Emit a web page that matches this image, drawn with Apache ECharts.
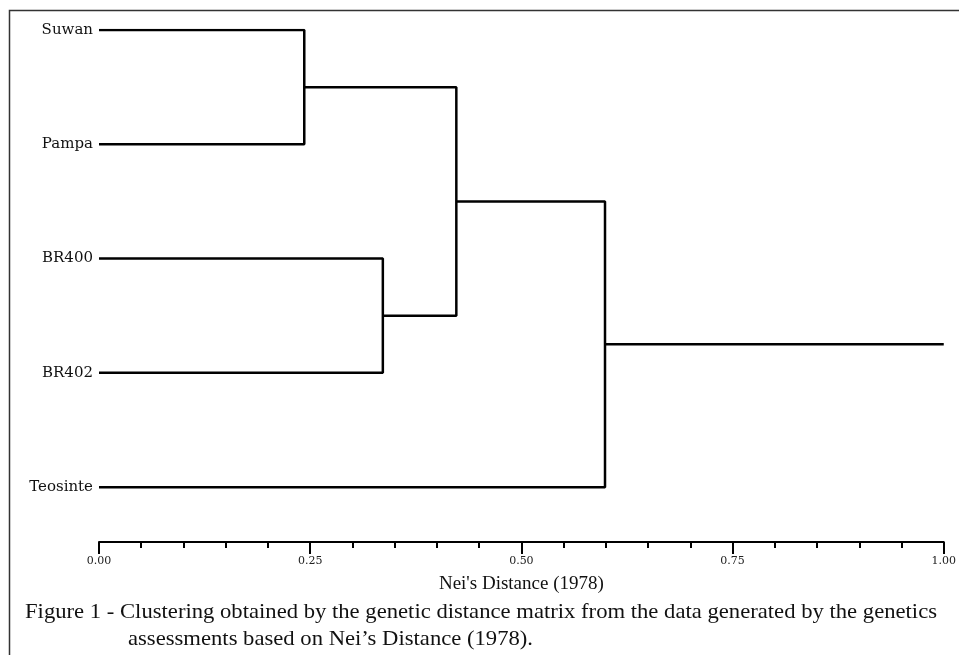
<!DOCTYPE html>
<html>
<head>
<meta charset="utf-8">
<style type="text/css">
	html, body{
		margin: 0;
		padding: 0;
		background: #fff;
	}
	#dendro{
		width: 959px;
		height: 655px;
	}
</style>
</head>
<body>
<div id="dendro"></div>
<script src="https://cdn.jsdelivr.net/npm/echarts@6/dist/echarts.min.js"></script>
<script>
// leaves, top to bottom
var leaves = ['Suwan', 'Pampa', 'BR400', 'BR402', 'Teosinte'];
// merges: [node a, node b, distance]; nodes 5.. are the clusters made here
var mergeA = [0, 2, 5, 7];
var mergeB = [1, 3, 6, 4];
var mergeDist = [0.243, 0.336, 0.423, 0.599];
var rootEnd = 1.0;
var xTicks = [0, 0.25, 0.5, 0.75, 1.0];

var caption1 = 'Figure 1 - Clustering obtained by the genetic distance matrix from the data generated by the genetics';
var caption2 = 'assessments based on Nei\u2019s Distance (1978).';

// node positions: x = height, y = leaf row (mean for clusters)
var nodeX = [], nodeY = [];
for (var i = 0; i < leaves.length; i++) {
	nodeX.push(0);
	nodeY.push(i);
}
var series = [];
for (var m = 0; m < mergeDist.length; m++) {
	var a = mergeA[m], b = mergeB[m], d = mergeDist[m];
	series.push({
		type: 'line',
		symbol: 'none',
		silent: true,
		lineStyle: {color: '#000', width: 2.5},
		data: [[nodeX[a], nodeY[a]], [d, nodeY[a]], [d, nodeY[b]], [nodeX[b], nodeY[b]]]
	});
	nodeX.push(d);
	nodeY.push((nodeY[a] + nodeY[b]) / 2);
}
var root = nodeX.length - 1;
series.push({
	type: 'line',
	symbol: 'none',
	silent: true,
	lineStyle: {color: '#000', width: 2.5},
	data: [[nodeX[root], nodeY[root]], [rootEnd, nodeY[root]]]
});

// caption: the scan is a bit stretched sideways, so the text is too
var capFont = '22px "Liberation Serif"';
var ctx = document.createElement('canvas').getContext('2d');
ctx.font = capFont;
var capScale = 405 / ctx.measureText(caption2).width;
var words = caption1.split(' ');
var capLeft = 25, capRight = 937;
var wordsW = 0;
words.forEach(function (w) { wordsW += ctx.measureText(w).width * capScale; });
var gap = (capRight - capLeft - wordsW) / (words.length - 1);
var graphics = [{
	type: 'polyline',
	shape: {points: [[9.5, 655], [9.5, 10.5], [959, 10.5]]},
	style: {stroke: '#333', lineWidth: 1.5, fill: null},
	silent: true
}];
var cx = capLeft;
words.forEach(function (w) {
	graphics.push({
		type: 'text', x: cx, y: 601, scaleX: capScale,
		style: {text: w, font: capFont, fill: '#111', verticalAlign: 'top'}
	});
	cx += ctx.measureText(w).width * capScale + gap;
});
graphics.push({
	type: 'text', x: 128, y: 628, scaleX: capScale,
	style: {text: caption2, font: capFont, fill: '#111', verticalAlign: 'top'}
});

var chart = echarts.init(document.getElementById('dendro'));
var option = {
	animation: false,
	backgroundColor: '#fff',
	grid: {
		left: 99,
		right: 11,
		top: 30,
		bottom: 113
	},
	xAxis: {
		type: 'value',
		min: 0,
		max: 1,
		interval: 0.25,
		name: 'Nei\'s Distance (1978)',
		nameLocation: 'middle',
		nameGap: 33,
		nameTextStyle: {fontFamily: 'Liberation Serif', fontSize: 19, color: '#111'},
		splitLine: {show: false},
		axisLine: {onZero: false, lineStyle: {color: '#000', width: 2}},
		axisTick: {length: 12, lineStyle: {color: '#000', width: 2}},
		minorTick: {show: true, splitNumber: 5, length: 6, lineStyle: {color: '#000', width: 2}},
		axisLabel: {
			margin: 14,
			fontFamily: 'DejaVu Serif',
			fontSize: 11,
			color: '#222',
			formatter: function (v) {
				return xTicks.indexOf(v) >= 0 ? v.toFixed(2) : '';
			}
		}
	},
	yAxis: {
		type: 'value',
		inverse: true,
		min: 0,
		max: 4.48,
		interval: 1,
		splitLine: {show: false},
		axisLine: {show: false},
		axisTick: {show: false},
		axisLabel: {
			margin: 6,
			fontFamily: 'DejaVu Serif',
			fontSize: 15,
			color: '#111',
			formatter: function (v) {
				return Math.round(v) === v && leaves[v] ? leaves[v] : '';
			}
		}
	},
	graphic: graphics,
	series: series
};
chart.setOption(option);
</script>
</body>
</html>
